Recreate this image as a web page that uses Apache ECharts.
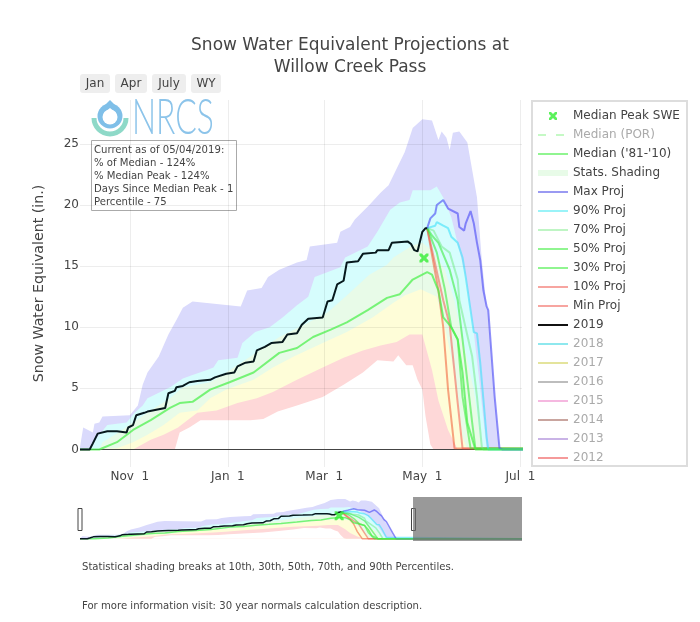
<!DOCTYPE html>
<html><head><meta charset="utf-8">
<style>html,body{margin:0;padding:0;background:#fff}#c{width:700px;height:622px}</style>
<script src="https://cdn.jsdelivr.net/npm/echarts@6/dist/echarts.min.js"></script>
</head><body><div id="c"></div>
<script>
// All pairs: [day of water year (0 = Oct 1, leap-year axis), inches]
const tickDays=[31,92,152,213,274];
const tickNames=['Nov  1','Jan  1','Mar  1','May  1','Jul  1'];
const yTicks=[0,5,10,15,20,25];
const medianPeak=[[214,15.65]];
const bandMax=[[0,0.2],[2,1.8],[8,1.4],[9,2.1],[12,2.2],[14,2.7],[31,2.8],[36,3.6],[39,5.3],[42,6.3],[49,7.6],[55,9.4],[60,10.6],[64,11.6],[70,12.1],[85,11.9],[100,11.7],[104,13.0],[113,13.2],[117,14.1],[124,14.7],[135,15.3],[141,15.5],[143,16.6],[160,16.9],[162,17.8],[168,18.2],[171,18.8],[180,20.0],[187,21.0],[192,21.6],[196,22.7],[202,24.3],[205,25.5],[207,26.3],[213,27.0],[219,26.9],[223,25.3],[225,26.0],[228,25.5],[230,24.5],[232,25.9],[236,26.0],[241,25.1],[247,20.6],[250,15.5],[253,11.7],[254,11.4],[258,4.3],[261,0.1],[263,0]];
const bandP90=[[0,0],[6,0.1],[12,1.2],[17,2.0],[29,2.2],[34,3.0],[39,3.6],[42,4.2],[50,4.7],[56,5.1],[64,5.8],[70,6.1],[79,6.5],[83,6.7],[86,7.3],[98,7.5],[101,8.7],[109,9.6],[118,10.0],[126,10.8],[135,11.8],[142,12.5],[146,14.1],[162,14.9],[165,15.7],[179,16.6],[185,17.8],[193,19.6],[199,20.2],[205,20.4],[207,21.2],[218,21.2],[222,21.5],[226,20.6],[231,19.0],[236,16.3],[240,14.1],[245,9.6],[249,4.9],[253,0]];
const bandP70=[[0,0],[12,0],[14,0.6],[23,1.3],[33,2.2],[44,3.2],[56,4.2],[64,5.1],[81,5.5],[91,6.3],[106,7.6],[124,9.2],[141,10.3],[154,11.2],[166,12.6],[180,14.3],[191,15.1],[195,15.7],[207,16.7],[213,16.9],[219,16.3],[227,14.7],[233,12.2],[238,9.0],[245,4.9],[250,0]];
const bandP30=[[0,0],[23,0.1],[33,0.6],[42,1.2],[52,2.0],[62,3.0],[73,3.2],[81,4.2],[91,4.9],[108,5.7],[120,6.7],[133,7.6],[151,8.7],[166,9.6],[182,10.8],[195,12.0],[202,12.6],[212,13.1],[222,12.5],[227,10.0],[233,6.3],[238,1.0],[241,0]];
const bandP10=[[0,0],[33,0],[44,0.8],[52,1.2],[61,1.8],[65,2.2],[73,3.0],[85,3.2],[98,3.8],[110,4.2],[120,4.7],[135,5.7],[151,6.7],[164,7.5],[176,8.1],[187,8.5],[197,8.8],[205,9.4],[213,9.4],[219,6.5],[223,4.0],[229,1.6],[235,0]];
const bandMin=[[0,0],[59,0],[62,1.4],[68,1.8],[75,2.4],[87,2.4],[106,2.4],[114,2.5],[123,3.1],[135,3.6],[151,4.3],[164,5.3],[176,6.3],[185,7.3],[195,7.2],[198,7.7],[203,6.9],[207,6.9],[210,5.7],[213,4.9],[215,2.7],[218,0.4],[220,0]];
const median8110=[[0,0],[12,0],[23,0.6],[33,1.6],[44,2.4],[56,3.4],[62,3.8],[70,3.9],[81,4.9],[93,5.5],[108,6.3],[124,7.9],[135,8.3],[145,9.2],[156,9.8],[166,10.4],[179,11.4],[191,12.4],[199,12.7],[207,13.9],[216,14.5],[219,14.3],[223,13.0],[226,10.8],[231,10.0],[235,9.0],[238,6.3],[241,2.2],[246,0],[365,0]];
const wy2019=[[0,0],[6,0],[8,0.5],[11,1.3],[17,1.5],[23,1.5],[29,1.4],[30,1.8],[33,2.0],[35,2.8],[40,3.0],[42,3.1],[53,3.4],[55,4.6],[59,4.8],[60,5.1],[64,5.2],[68,5.5],[73,5.6],[81,5.7],[84,5.9],[91,6.2],[96,6.3],[98,6.8],[103,7.1],[108,7.2],[110,8.1],[115,8.4],[119,8.7],[126,8.8],[129,9.4],[135,9.5],[138,10.2],[142,10.7],[151,10.8],[154,12.1],[157,12.2],[160,13.5],[164,13.8],[166,15.3],[173,15.4],[176,16.0],[184,16.1],[185,16.3],[192,16.3],[194,16.9],[204,17.0],[206,16.8],[208,16.3],[210,16.2],[213,17.8],[215,18.1],[216,18.1]];
const projMax=[[216,18.1],[218,18.9],[221,19.3],[222,20.0],[226,20.4],[229,19.7],[235,19.3],[236,18.2],[239,17.9],[240,18.5],[243,19.5],[245,18.5],[247,16.9],[249,15.5],[251,13.0],[253,11.7],[254,11.4],[258,4.3],[261,0.1],[263,0],[365,0]];
const proj90=[[216,18.1],[221,18.3],[222,18.6],[226,18.3],[229,18.1],[231,17.4],[235,16.9],[238,15.7],[240,14.1],[245,9.6],[247,9.5],[249,7.1],[253,1.0],[254,0],[365,0]];
const proj70=[[216,18.1],[220,17.9],[225,16.6],[230,16.1],[235,13.9],[236,12.2],[244,7.6],[247,4.3],[250,0.2],[251,0],[365,0]];
const proj50=[[216,18.1],[219,17.5],[223,16.9],[230,14.7],[235,12.2],[238,9.0],[244,2.2],[246,0.1],[247,0],[365,0]];
const proj30=[[216,18.1],[222,16.1],[227,13.1],[231,10.0],[235,9.0],[238,4.3],[243,0.1],[244,0],[365,0]];
const proj10=[[216,18.1],[226,12.2],[230,10.2],[235,3.8],[238,0.1],[239,0],[365,0]];
const projMin=[[216,18.1],[223,13.0],[226,10.0],[229,4.9],[233,0.1],[234,0],[365,0]];
const hiddenYears=['2018','2017','2016','2015','2014','2013','2012'];
const hiddenColors=['#8ee8ee','#e4e49c','#bdbdbd','#f5b8e0','#c9a59f','#c9b3e6','#f59a9a'];
const statsLines=['Current as of 05/04/2019:','% of Median - 124%','% Median Peak - 124%','Days Since Median Peak - 1','Percentile - 75'];

const FONT='"DejaVu Sans", Verdana, sans-serif';
const TXT='#444';
const xBody='M11,3L13,3L15,5L17,3L19,3L19,5L17,7L19,9L19,11L17,11L15,9L13,11L11,11L11,9L13,7L11,5Z';
const xPath='path://M0,0L0,0'+xBody+'M30,14L30,14';
const rectPath='path://M0,0L0,0M0,4H30V10H0ZM30,14L30,14';
const linePath='path://M0,0L0,0M0,6H30V8H0ZM30,14L30,14';
const dashPath='path://M0,0L0,0M0,6H8V8H0ZM18,6H26V8H18ZM30,14L30,14';
const bands=[[bandMax,'#dadafc'],[bandP90,'#d6fdfd'],[bandP70,'#e8fbe8'],[bandP30,'#fefdd8'],[bandP10,'#fed8d8'],[bandMin,'#ffffff']];
const lines=[
 ['Min Proj',projMin,'rgba(240,90,50,0.55)'],
 ['10% Proj',proj10,'rgba(240,90,80,0.55)'],
 ['30% Proj',proj30,'rgba(50,235,50,0.55)'],
 ['50% Proj',proj50,'rgba(50,235,50,0.55)'],
 ['70% Proj',proj70,'rgba(110,235,130,0.5)'],
 ['90% Proj',proj90,'rgba(60,225,250,0.6)'],
 ['Max Proj',projMax,'rgba(70,70,245,0.6)'],
 ["Median ('81-'10)",median8110,'rgba(70,240,70,0.7)'],
 ['2019',wy2019,'#06181c']
];
const series=[];
bands.forEach(function(b,i){
  [0,1].forEach(function(k){
    series.push({type:'line',name:k?'':'band'+i,data:b[0],xAxisIndex:k,yAxisIndex:k,symbol:'none',silent:true,z:0,
      lineStyle:{width:0},areaStyle:{color:b[1],opacity:1}});
  });
});
series.push({type:'line',name:'zero',data:[],symbol:'none',silent:true,z:1,
  markLine:{silent:true,symbol:'none',z:1,label:{show:false},lineStyle:{color:'#444',width:1,type:'solid'},data:[{yAxis:0}],animation:false}});
lines.forEach(function(l){
  series.push({type:'line',name:l[0],data:l[1],symbol:'none',showSymbol:false,silent:true,z:2,lineStyle:{color:l[2],width:2},itemStyle:{color:l[2]}});
  series.push({type:'line',name:'',data:l[1],xAxisIndex:1,yAxisIndex:1,symbol:'none',silent:true,z:2,lineStyle:{color:l[2],width:1.5}});
});
const xSym='path://'+xBody;
series.push({type:'scatter',name:'Median Peak SWE',data:medianPeak,symbol:xSym,symbolSize:9,itemStyle:{color:'#33ee33'},z:4,silent:true});
series.push({type:'scatter',name:'',data:medianPeak,xAxisIndex:1,yAxisIndex:1,symbol:xSym,symbolSize:9,itemStyle:{color:'#33ee33'},z:4,silent:true});
series.push({type:'line',name:'Median (POR)',data:[],symbol:'none',lineStyle:{color:'#c5f9c5',width:2},itemStyle:{color:'#c5f9c5'}});
series.push({type:'line',name:'Stats. Shading',data:[],symbol:'none',lineStyle:{width:0},itemStyle:{color:'#e8fbe8'}});
hiddenYears.forEach(function(y,i){
  series.push({type:'line',name:y,data:[],symbol:'none',lineStyle:{color:hiddenColors[i],width:2},itemStyle:{color:hiddenColors[i]}});
});
// gray mask on the range slider: everything beyond the main x range
series.push({type:'line',name:'',data:[],xAxisIndex:1,yAxisIndex:1,silent:true,z:5,
  markArea:{silent:true,z:5,itemStyle:{color:'rgba(110,110,110,0.7)'},data:[[{xAxis:275},{xAxis:365}]],animation:false}});

function li(n,c){return {name:n,icon:linePath,itemStyle:{color:c}};}
const legendData=[
 {name:'Median Peak SWE',icon:xPath,itemStyle:{color:'#33ee33'}},
 {name:'Median (POR)',icon:dashPath,itemStyle:{color:'#c5f9c5'},textStyle:{color:'#aaa'}},
 li("Median ('81-'10)",'#90f590'),
 {name:'Stats. Shading',icon:rectPath,itemStyle:{color:'#e8fbe8'}},
 li('Max Proj','#9a9af2'),li('90% Proj','#9af3f8'),li('70% Proj','#bff5c4'),li('50% Proj','#90f590'),li('30% Proj','#90f590'),li('10% Proj','#f7a5a0'),li('Min Proj','#f7a5a0'),li('2019','#111')
].concat(hiddenYears.map(function(y,i){return {name:y,icon:linePath,itemStyle:{color:hiddenColors[i]},textStyle:{color:'#aaa'}};}));

function btn(x,w,t){return [
 {type:'rect',shape:{x:x,y:74,width:w,height:19,r:3},style:{fill:'#eee'},silent:true},
 {type:'text',style:{x:x+w/2,y:84,text:t,fill:TXT,font:'12px '+FONT,align:'center',verticalAlign:'middle'},silent:true}];}

const option={
 animation:false,backgroundColor:'#fff',
 title:{text:'Snow Water Equivalent Projections at\nWillow Creek Pass',left:345,top:30,textAlign:'center',
   textStyle:{fontFamily:FONT,fontSize:17,fontWeight:'normal',color:TXT,lineHeight:22}},
 legend:{data:legendData,orient:'vertical',left:538,top:109,itemWidth:30,itemHeight:14,itemGap:5,selectedMode:false,
   textStyle:{fontFamily:FONT,fontSize:12,color:TXT},padding:0,z:6},
 grid:[{left:80,width:442,top:100,height:367},{left:80,width:442,top:497,height:44}],
 xAxis:[
  {type:'value',min:0,max:275,gridIndex:0,z:1,
   axisLine:{show:false},axisTick:{show:false,customValues:tickDays},
   splitLine:{show:true,lineStyle:{color:'rgba(0,0,0,0.07)',width:1}},
   axisLabel:{customValues:tickDays,color:TXT,fontFamily:FONT,fontSize:12,margin:4,hideOverlap:false,
     formatter:function(v){return tickNames[tickDays.indexOf(v)];}}},
  {type:'value',min:0,max:365,gridIndex:1,show:false}],
 yAxis:[
  {type:'value',min:-1.43,max:28.58,gridIndex:0,z:1,name:'Snow Water Equivalent (in.)',nameLocation:'middle',nameGap:34,
   nameTextStyle:{color:TXT,fontFamily:FONT,fontSize:14.2},
   axisLine:{show:false},axisTick:{show:false,customValues:yTicks},
   splitLine:{show:true,lineStyle:{color:'rgba(0,0,0,0.07)',width:1}},
   axisLabel:{customValues:yTicks,color:TXT,fontFamily:FONT,fontSize:12,margin:1}},
  {type:'value',min:-1.5,max:28.3,gridIndex:1,show:false}],
 series:series,
 graphic:[
  {type:'group',silent:true,z:10,children:[].concat(
   btn(80,30,'Jan'),btn(115,32,'Apr'),btn(152,34,'July'),btn(191,30,'WY'),[
   {type:'rect',shape:{x:532,y:101,width:155,height:365},style:{fill:'none',stroke:'#ddd',lineWidth:2}},
   // logo
   {type:'polygon',shape:{points:[[110,100],[99,111],[121,111]]},style:{fill:'#7fbfe8'}},
   {type:'circle',shape:{cx:110,cy:116,r:12.5},style:{fill:'#7fbfe8'}},
   {type:'polygon',shape:{points:[[110,108],[104,113],[116,113]]},style:{fill:'#fff'}},
   {type:'circle',shape:{cx:110,cy:117,r:7.5},style:{fill:'#fff'}},
   {type:'sector',shape:{cx:110,cy:118,r0:13.5,r:18.5,startAngle:0,endAngle:Math.PI,clockwise:true},style:{fill:'#8ed9c8'}},
   {type:'text',x:132,y:143,scaleX:0.65,style:{x:0,y:0,text:'NRCS',fill:'#8cc4ea',font:'300 49px Lato, "Open Sans", sans-serif',align:'left',verticalAlign:'bottom'}},
   // stats box
   {type:'rect',shape:{x:91.5,y:140.5,width:145,height:70},style:{fill:'#fff',stroke:'#aaa',lineWidth:1}},
   {type:'text',style:{x:94,y:144,text:statsLines.join('\n'),fill:TXT,font:'10.1px '+FONT,lineHeight:13}},
   // slider handles
   {type:'rect',shape:{x:78,y:508.5,width:4,height:22},style:{fill:'#fff',stroke:'#444',lineWidth:1}},
   {type:'rect',shape:{x:411.5,y:508.5,width:4,height:22},style:{fill:'#fff',stroke:'#444',lineWidth:1}},
   // notes
   {type:'text',style:{x:82,y:562,text:'Statistical shading breaks at 10th, 30th, 50th, 70th, and 90th Percentiles.',fill:TXT,font:'10.1px '+FONT}},
   {type:'text',style:{x:82,y:601,text:'For more information visit: 30 year normals calculation description.',fill:TXT,font:'10.1px '+FONT}}
  ])}
 ]
};
const chart=echarts.init(document.getElementById('c'),null,{renderer:'canvas'});
chart.setOption(option);
</script></body></html>
